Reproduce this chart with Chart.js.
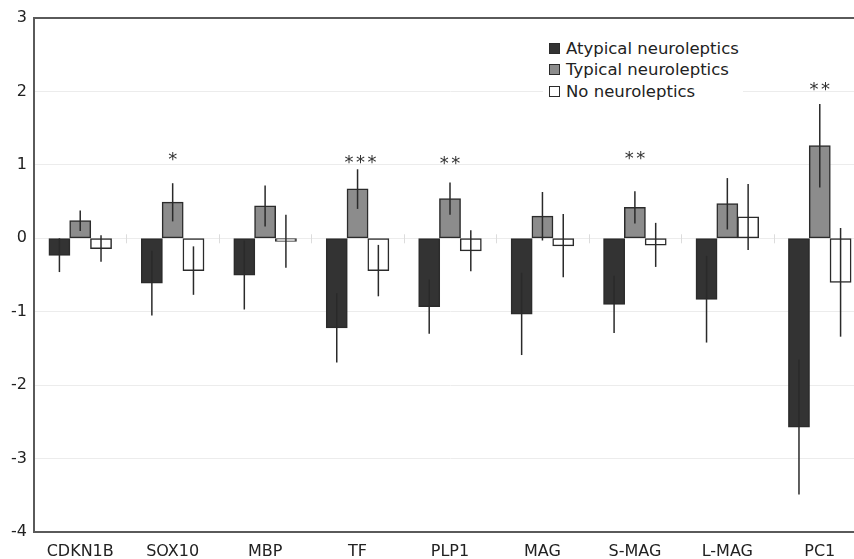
<!DOCTYPE html>
<html>
<head>
<meta charset="utf-8">
<script src="https://cdn.jsdelivr.net/npm/chart.js@4"></script>
<style>
    body { margin: 0; overflow: hidden; background: #fff; font-family: "DejaVu Sans", sans-serif; }
    #wrap { position: relative; width: 866px; height: 559px; }
    #legend { position: absolute; left: 543px; top: 38px; width: 200px; background: #fff; color: #222; font-size: 16.5px; }
    #legend div { position: relative; height: 21.3px; line-height: 21.3px; padding-left: 23px; white-space: nowrap; }
    #legend span { position: absolute; left: 6px; top: 5px; width: 9px; height: 9px; border: 1px solid #2b2b2b; }
</style>
</head>
<body>
<div id="wrap">
    <canvas id="chart" width="866" height="559"></canvas>
    <div id="legend"></div>
</div>
<script>
    // Kategoriler ve seriler
    const categories = ['CDKN1B', 'SOX10', 'MBP', 'TF', 'PLP1', 'MAG', 'S-MAG', 'L-MAG', 'PC1'];
    const seriesNames = ['Atypical neuroleptics', 'Typical neuroleptics', 'No neuroleptics'];

    const atypical    = [-0.23, -0.61, -0.50, -1.22, -0.93, -1.03, -0.90, -0.83, -2.57];
    const atypicalErr = [ 0.23,  0.44,  0.47,  0.47,  0.37,  0.56,  0.39,  0.59,  0.92];
    const typical     = [ 0.24,  0.49,  0.44,  0.67,  0.54,  0.30,  0.42,  0.47,  1.26];
    const typicalErr  = [ 0.14,  0.26,  0.28,  0.27,  0.22,  0.33,  0.22,  0.35,  0.57];
    const noNeuro     = [-0.14, -0.44, -0.04, -0.44, -0.17, -0.10, -0.09,  0.29, -0.60];
    const noNeuroErr  = [ 0.18,  0.33,  0.36,  0.35,  0.28,  0.43,  0.30,  0.45,  0.74];

    // Anlamlılık yıldızları (tipik seri üstünde)
    const sigLabels = ['', '*', '', '***', '**', '', '**', '', '**'];
    const sigY      = [null, 1.13, null, 1.10, 1.08, null, 1.15, null, 2.09];

    const yTicks = [-4, -3, -2, -1, 0, 1, 2, 3];

    const fills = ['#333333', '#8c8c8c', '#ffffff'];
    const errors = [atypicalErr, typicalErr, noNeuroErr];
    const axisColor = '#5a5a5a';

    // Legend
    const legend = document.getElementById('legend');
    seriesNames.forEach((name, i) => {
        const row = document.createElement('div');
        row.innerHTML = `<span style="background:${fills[i]}"></span>${name}`;
        legend.appendChild(row);
    });

    // Hata çubukları, yıldızlar ve sıfır çizgisindeki küçük işaretler
    const extras = {
        id: 'extras',
        afterDatasetsDraw(chart) {
            const ctx = chart.ctx;
            const y = chart.scales.y;
            const x = chart.scales.x;
            const y0 = y.getPixelForValue(0);

            ctx.save();
            ctx.strokeStyle = '#dcdcdc';
            ctx.lineWidth = 1;
            for (let i = 0; i < categories.length - 1; i++) {
                const bx = Math.round((x.getPixelForValue(i) + x.getPixelForValue(i + 1)) / 2) + 0.5;
                ctx.beginPath();
                ctx.moveTo(bx, y0 - 4);
                ctx.lineTo(bx, y0 + 5);
                ctx.stroke();
            }

            ctx.strokeStyle = '#2a2a2a';
            ctx.lineWidth = 1.5;
            chart.data.datasets.forEach((ds, d) => {
                const meta = chart.getDatasetMeta(d);
                meta.data.forEach((bar, i) => {
                    const v = ds.data[i];
                    const e = errors[d][i];
                    ctx.beginPath();
                    ctx.moveTo(bar.x, y.getPixelForValue(v + e));
                    ctx.lineTo(bar.x, y.getPixelForValue(v - e));
                    ctx.stroke();
                });
            });

            const typMeta = chart.getDatasetMeta(1);
            ctx.fillStyle = '#333';
            ctx.font = '18px "DejaVu Sans"';
            ctx.textAlign = 'center';
            ctx.textBaseline = 'alphabetic';
            sigLabels.forEach((lab, i) => {
                if (!lab) return;
                const cx = typMeta.data[i].x + (lab.length > 2 ? 3 : 0);
                const cy = y.getPixelForValue(sigY[i]);
                for (let k = 0; k < lab.length; k++) {
                    const sx = cx + (k - (lab.length - 1) / 2) * 11.5;
                    ctx.fillText('*', sx, cy + 10);
                }
            });
            ctx.restore();
        }
    };

    new Chart(document.getElementById('chart').getContext('2d'), {
        type: 'bar',
        data: {
            labels: categories,
            datasets: [atypical, typical, noNeuro].map((vals, i) => ({
                label: seriesNames[i],
                data: vals,
                backgroundColor: fills[i],
                borderColor: '#2b2b2b',
                borderWidth: 1.5,
                borderSkipped: false,
                inflateAmount: 0.5,
                barPercentage: 1,
                categoryPercentage: 0.675
            }))
        },
        options: {
            responsive: false,
            animation: false,
            layout: { padding: { top: 18, right: 0, left: 0, bottom: 0 } },
            scales: {
                x: {
                    grid: { display: false, drawTicks: false },
                    border: { color: axisColor, width: 2 },
                    ticks: { color: '#222', font: { family: 'DejaVu Sans', size: 16 }, padding: 10, maxRotation: 0 },
                    afterFit: s => { s.height = 27; }
                },
                y: {
                    min: -4,
                    max: 3,
                    afterBuildTicks: s => { s.ticks = yTicks.map(v => ({ value: v })); },
                    grid: {
                        drawTicks: false,
                        color: c => (c.tick && c.tick.value === 3) ? axisColor : '#ececec',
                        lineWidth: c => (c.tick && c.tick.value === 3) ? 2 : 1
                    },
                    border: { color: axisColor, width: 2 },
                    ticks: { color: '#222', font: { family: 'DejaVu Sans', size: 16 }, padding: 7 },
                    afterFit: s => { s.width = 34; }
                }
            },
            plugins: {
                legend: { display: false },
                tooltip: { enabled: false }
            }
        },
        plugins: [extras]
    });
</script>
</body>
</html>
